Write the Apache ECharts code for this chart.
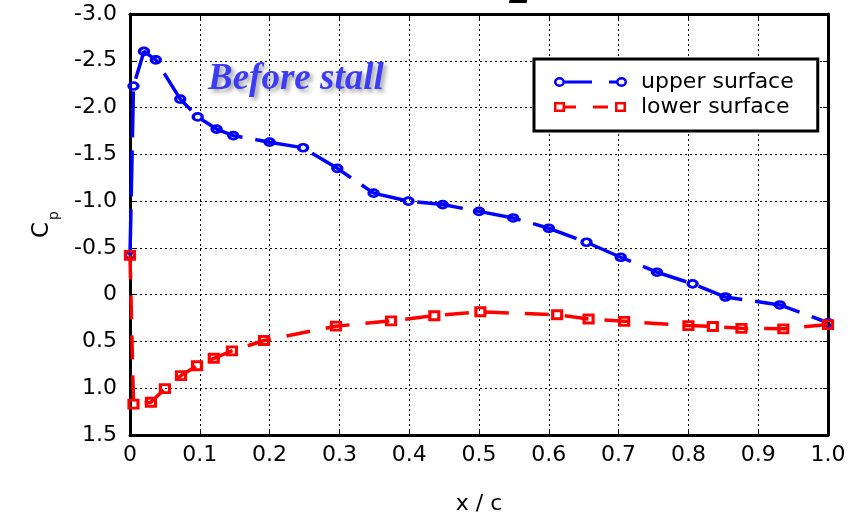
<!DOCTYPE html>
<html>
<head>
<meta charset="utf-8">
<script src="https://cdn.jsdelivr.net/npm/echarts@6/dist/echarts.min.js"></script>
<style>
html,body{margin:0;padding:0;background:#fff;}
#chart{width:865px;height:520px;}
</style>
</head>
<body>
<div id="chart"></div>
<script>
// Upper surface (x/c, Cp)
const upperX  = [0, 0.005, 0.02, 0.037, 0.072, 0.097, 0.124, 0.148, 0.2, 0.248, 0.297, 0.349, 0.399, 0.448, 0.5, 0.549, 0.6, 0.654, 0.703, 0.755, 0.806, 0.853, 0.931, 1.0];
const upperCp = [-0.42, -2.23, -2.60, -2.51, -2.09, -1.90, -1.77, -1.70, -1.63, -1.57, -1.35, -1.085, -1.0, -0.963, -0.89, -0.82, -0.71, -0.56, -0.40, -0.24, -0.116, 0.025, 0.11, 0.30];
// Lower surface (x/c, Cp)
const lowerX  = [0, 0.005, 0.03, 0.05, 0.073, 0.096, 0.12, 0.146, 0.192, 0.295, 0.374, 0.436, 0.502, 0.612, 0.657, 0.708, 0.8, 0.835, 0.876, 0.936, 1.0];
const lowerCp = [-0.42, 1.17, 1.15, 1.005, 0.865, 0.76, 0.68, 0.60, 0.49, 0.337, 0.28, 0.225, 0.183, 0.215, 0.26, 0.285, 0.33, 0.34, 0.36, 0.365, 0.32];
// Labels
const seriesNames = ['upper surface', 'lower surface'];
const xAxisTitle = 'x / c';
const yAxisTitleMain = 'C';
const yAxisTitleSub = 'p';
const annotationText = 'Before stall';
const topTitleFragment = '2';

const pairs = (xs, ys) => xs.map((x, i) => [x, ys[i]]);
const fmtTick = v => (Math.abs(v) < 1e-9 ? '0' : v.toFixed(1));
const FONT = 'DejaVu Sans';
const BLUE = '#0000ff', RED = '#ff0000';

// legend icons: marker - line - gap - dash - marker (73 x 10 box)
const ringIcon = 'path://M0 5A5.5 5 0 1 1 11 5A5.5 5 0 1 1 0 5Z' +
  'M2.5 5A3 2.5 0 1 0 8.5 5A3 2.5 0 1 0 2.5 5Z' +
  'M11 3.5H38V6.5H11Z M55 3.5H63V6.5H55Z' +
  'M62 5A5.5 5 0 1 1 73 5A5.5 5 0 1 1 62 5Z' +
  'M64.5 5A3 2.5 0 1 0 70.5 5A3 2.5 0 1 0 64.5 5Z';
const squareIcon = 'path://M0 0H11V10H0Z M2.5 2.5V7.5H8.5V2.5Z' +
  'M11 3.5H22V6.5H11Z M39 3.5H54V6.5H39Z' +
  'M61 0H72V10H61Z M63.5 2.5V7.5H69.5V2.5Z M72 0H73V0.01H72Z';

const chart = echarts.init(document.getElementById('chart'), null, {renderer: 'canvas'});
chart.setOption({
  backgroundColor: '#ffffff',
  animation: false,
  grid: {left: 130, right: 37, top: 14, bottom: 79, containLabel: false},
  legend: {
    orient: 'vertical',
    left: 534, top: 59,
    padding: [12, 24, 13, 20],
    itemGap: 3,
    itemWidth: 73, itemHeight: 10,
    borderColor: '#000', borderWidth: 3, borderRadius: 0,
    backgroundColor: '#fff',
    textStyle: {fontFamily: FONT, fontSize: 22, color: '#000', lineHeight: 22, padding: [0, 0, 0, 9]},
    data: [
      {name: seriesNames[0], icon: ringIcon, itemStyle: {color: BLUE, borderWidth: 0}},
      {name: seriesNames[1], icon: squareIcon, itemStyle: {color: RED, borderWidth: 0}}
    ]
  },
  xAxis: [{
    type: 'value', min: 0, max: 1, interval: 0.1,
    name: xAxisTitle, nameLocation: 'middle', nameGap: 58,
    nameTextStyle: {fontFamily: FONT, fontSize: 22, color: '#000'},
    axisLine: {show: true, onZero: false, lineStyle: {color: '#000', width: 3}},
    axisTick: {show: true, inside: true, length: 5, lineStyle: {color: '#000', width: 1}},
    axisLabel: {fontFamily: FONT, fontSize: 22, color: '#000', margin: 9, formatter: fmtTick},
    splitLine: {show: true, lineStyle: {color: '#000', width: 1, type: [2, 3]}}
  }, {
    type: 'value', min: 0, max: 1, interval: 0.1, position: 'top',
    axisLine: {show: true, onZero: false, lineStyle: {color: '#000', width: 3}},
    axisTick: {show: true, inside: true, length: 5, lineStyle: {color: '#000', width: 1}},
    axisLabel: {show: false}, splitLine: {show: false}
  }],
  yAxis: [{
    type: 'value', min: -3, max: 1.5, interval: 0.5, inverse: true,
    name: '{c|' + yAxisTitleMain + '}{p|' + yAxisTitleSub + '}',
    nameLocation: 'middle', nameGap: 69,
    nameTextStyle: {
      color: '#000',
      rich: {
        c: {fontFamily: FONT, fontSize: 23, color: '#000', lineHeight: 30, verticalAlign: 'top'},
        p: {fontFamily: FONT, fontSize: 14, color: '#000', lineHeight: 30, verticalAlign: 'bottom', padding: [13, 0, 0, 2]}
      }
    },
    axisLine: {show: true, onZero: false, lineStyle: {color: '#000', width: 3}},
    axisTick: {show: true, inside: true, length: 5, lineStyle: {color: '#000', width: 1}},
    axisLabel: {fontFamily: FONT, fontSize: 22, color: '#000', margin: 13, formatter: fmtTick},
    splitLine: {show: true, lineStyle: {color: '#000', width: 1, type: [2, 3]}}
  }, {
    type: 'value', min: -3, max: 1.5, interval: 0.5, inverse: true, position: 'right',
    axisLine: {show: true, onZero: false, lineStyle: {color: '#000', width: 3}},
    axisTick: {show: true, inside: true, length: 5, lineStyle: {color: '#000', width: 1}},
    axisLabel: {show: false}, splitLine: {show: false}
  }],
  graphic: [{
    type: 'text', left: 208, top: 61, z: 10,
    style: {
      text: annotationText,
      font: 'italic bold 37px "Liberation Serif", "Times New Roman", serif',
      fill: '#3c3cf6',
      textShadowColor: 'rgba(90,90,90,0.55)', textShadowBlur: 4,
      textShadowOffsetX: 3, textShadowOffsetY: 3
    }
  }, {
    type: 'text', left: 509, top: -31, z: 10,
    style: {
      text: topTitleFragment,
      font: 'italic 44px "Liberation Serif", "Times New Roman", serif',
      fill: '#000'
    }
  }],
  series: [{
    name: seriesNames[0], type: 'line',
    data: pairs(upperX, upperCp),
    symbol: 'circle', symbolSize: [9, 7],
    itemStyle: {color: 'rgba(255,255,255,0)', borderColor: BLUE, borderWidth: 3},
    lineStyle: {color: BLUE, width: 3.5, type: [46, 13]},
    color: BLUE,
    z: 3
  }, {
    name: seriesNames[1], type: 'line',
    data: pairs(lowerX, lowerCp),
    symbol: 'rect', symbolSize: [9, 8],
    itemStyle: {color: 'rgba(255,255,255,0)', borderColor: RED, borderWidth: 3},
    lineStyle: {color: RED, width: 3.5, type: [24, 16]},
    color: RED,
    z: 4
  }]
});
</script>
</body>
</html>
